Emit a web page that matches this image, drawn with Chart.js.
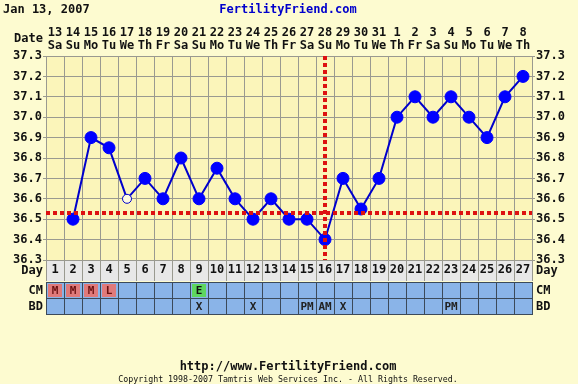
<!DOCTYPE html>
<html>
<head>
<meta charset="utf-8">
<script src="https://cdn.jsdelivr.net/npm/chart.js@4.4.1/dist/chart.umd.min.js"></script>
<style>
  html, body { margin: 0; padding: 0; background: #fdfbd0; }
  #wrap { width: 578px; height: 384px; }
</style>
</head>
<body>
<div id="wrap"><canvas id="bbt" width="578" height="384"></canvas></div>
<script>
// cycle days and calendar dates
const days = ['1','2','3','4','5','6','7','8','9','10','11','12','13','14','15','16','17','18','19','20','21','22','23','24','25','26','27'];
const dates = ['13','14','15','16','17','18','19','20','21','22','23','24','25','26','27','28','29','30','31','1','2','3','4','5','6','7','8'];
const weekdays = ['Sa','Su','Mo','Tu','We','Th','Fr','Sa','Su','Mo','Tu','We','Th','Fr','Sa','Su','Mo','Tu','We','Th','Fr','Sa','Su','Mo','Tu','We','Th'];

// temperatures (null = not recorded)
const temps = [null, 36.5, 36.9, 36.85, 36.6, 36.7, 36.6, 36.8, 36.6, 36.75, 36.6, 36.5, 36.6, 36.5, 36.5, 36.4, 36.7, 36.55, 36.7, 37.0, 37.1, 37.0, 37.1, 37.0, 36.9, 37.1, 37.2];
const discardedDays = ['5'];

const coverline = 36.53;
const ovulationDay = '16';

// observations
const cmObs = ['M','M','M','L','','','','','E','','','','','','','','','','','','','','','','','',''];
const bdObs = ['','','','','','','','','X','','','X','','','PM','AM','X','','','','','','PM','','','',''];

const yMin = 36.3;
const yMax = 37.3;

const FONT = '"DejaVu Sans Mono", monospace';

const cmColors = { M: '#e07a7a', L: '#e07a7a', E: '#5ed65e' };

const chartDecor = {
  id: 'chartDecor',
  beforeDraw(chart) {
    const { ctx, chartArea } = chart;
    ctx.save();
    ctx.fillStyle = '#fdfbd0';
    ctx.fillRect(0, 0, chart.width, chart.height);
    ctx.fillStyle = '#fbf5ba';
    ctx.fillRect(chartArea.left, chartArea.top, chartArea.right - chartArea.left, chartArea.bottom - chartArea.top);
    // day row
    ctx.fillStyle = '#e8e8e8';
    ctx.fillRect(chartArea.left, chartArea.bottom, chartArea.right - chartArea.left, 21);
    ctx.restore();
  },
  afterDatasetsDraw(chart) {
    const { ctx, chartArea, scales } = chart;
    ctx.save();
    ctx.strokeStyle = '#dd1111';
    ctx.lineWidth = 4;
    ctx.setLineDash([4, 3]);
    const yc = Math.round(scales.y.getPixelForValue(coverline));
    ctx.beginPath();
    ctx.moveTo(chartArea.left, yc);
    ctx.lineTo(chartArea.right, yc);
    ctx.stroke();
    const xo = Math.round(scales.x.getPixelForValue(days.indexOf(ovulationDay)));
    ctx.beginPath();
    ctx.moveTo(xo, chartArea.top);
    ctx.lineTo(xo, chartArea.bottom);
    ctx.stroke();
    ctx.restore();
  },
  afterDraw(chart) {
    const { ctx, chartArea, scales } = chart;
    const x = scales.x;
    const colW = (chartArea.right - chartArea.left) / days.length;
    const rowTop = chartArea.bottom + 21;
    const cmTop = rowTop + 1, bdTop = rowTop + 17, rowH = 16;
    ctx.save();

    // CM / BD rows
    ctx.fillStyle = '#8ab4e8';
    ctx.fillRect(chartArea.left, cmTop, chartArea.right - chartArea.left, rowH * 2);
    ctx.font = 'bold 11px ' + FONT;
    ctx.textAlign = 'center';
    ctx.textBaseline = 'middle';
    days.forEach((d, i) => {
      const cx = x.getPixelForValue(i);
      const cm = cmObs[i];
      if (cm) {
        ctx.fillStyle = cmColors[cm] || '#e07a7a';
        ctx.fillRect(cx - colW / 2 + 2, cmTop + 2, colW - 4, rowH - 3);
        ctx.fillStyle = cm === 'E' ? '#111' : '#6a1010';
        ctx.fillText(cm, cx, cmTop + rowH / 2 + 1);
      }
      if (bdObs[i]) {
        ctx.fillStyle = '#222';
        ctx.fillText(bdObs[i], cx, bdTop + rowH / 2 + 1);
      }
    });
    ctx.strokeStyle = '#3c4a5a';
    ctx.lineWidth = 1;
    ctx.beginPath();
    for (let k = 0; k <= days.length; k++) {
      const lx = Math.round(chartArea.left + k * colW) + 0.5;
      ctx.moveTo(lx, cmTop);
      ctx.lineTo(lx, bdTop + rowH);
    }
    [cmTop, bdTop, bdTop + rowH].forEach(ly => {
      ctx.moveTo(chartArea.left, ly + 0.5);
      ctx.lineTo(chartArea.right + 1, ly + 0.5);
    });
    ctx.stroke();

    // side labels
    ctx.fillStyle = '#111';
    ctx.font = 'bold 12px ' + FONT;
    ctx.textAlign = 'right';
    ctx.fillText('Date', chartArea.left - 3, 39);
    ctx.fillText('Day', chartArea.left - 3, chartArea.bottom + 11);
    ctx.fillText('CM', chartArea.left - 3, cmTop + rowH / 2 + 1);
    ctx.fillText('BD', chartArea.left - 3, bdTop + rowH / 2 + 1);
    ctx.textAlign = 'left';
    ctx.fillText('Day', chartArea.right + 4, chartArea.bottom + 11);
    ctx.fillText('CM', chartArea.right + 4, cmTop + rowH / 2 + 1);
    ctx.fillText('BD', chartArea.right + 4, bdTop + rowH / 2 + 1);

    // header
    ctx.textAlign = 'left';
    ctx.fillText('Jan 13, 2007', 3, 10);
    ctx.fillStyle = '#0000cc';
    ctx.textAlign = 'center';
    ctx.fillText('FertilityFriend.com', 288, 10);

    // footer
    ctx.fillStyle = '#111';
    ctx.fillText('http://www.FertilityFriend.com', 288, 367);
    ctx.font = '8.3px ' + FONT;
    ctx.fillText('Copyright 1998-2007 Tamtris Web Services Inc. - All Rights Reserved.', 288, 380);
    ctx.restore();
  }
};

const tickFont = { family: FONT, size: 12, weight: 'bold', lineHeight: 1.05 };

new Chart(document.getElementById('bbt'), {
  type: 'line',
  data: {
    labels: days,
    datasets: [{
      label: 'Temperature',
      data: temps,
      borderColor: '#0000cc',
      borderWidth: 2,
      pointRadius: days.map(d => discardedDays.includes(d) ? 4.5 : 6),
      pointBackgroundColor: days.map(d => discardedDays.includes(d) ? '#fdfbe0' : '#0000ff'),
      pointBorderColor: days.map(d => discardedDays.includes(d) ? '#0000cc' : '#0000ff'),
      pointBorderWidth: 1,
      spanGaps: false,
      tension: 0
    }]
  },
  options: {
    responsive: false,
    animation: false,
    layout: { padding: { top: 0, left: 0, right: 0, bottom: 103 } },
    plugins: {
      legend: { display: false },
      tooltip: { enabled: false }
    },
    scales: {
      x: {
        type: 'category',
        position: 'bottom',
        offset: true,
        grid: { offset: true, color: '#9a9a90', tickLength: 21, drawTicks: true },
        border: { color: '#9a9a90' },
        ticks: { autoSkip: false, maxRotation: 0, color: '#111', font: tickFont, padding: -17 },
        afterFit: axis => { axis.height = 21; }
      },
      xTop: {
        type: 'category',
        position: 'top',
        offset: true,
        grid: { display: false, drawTicks: false },
        border: { display: false },
        ticks: {
          autoSkip: false, maxRotation: 0, color: '#111', font: tickFont, padding: 4,
          callback: (v, i) => [dates[i], weekdays[i]]
        },
        afterFit: axis => { axis.height = 56; }
      },
      y: {
        position: 'left',
        min: yMin,
        max: yMax,
        grid: { color: '#9a9a90', tickLength: 3 },
        border: { color: '#9a9a90' },
        ticks: { stepSize: 0.1, color: '#111', font: tickFont, padding: 1, callback: v => Number(v).toFixed(1) },
        afterFit: axis => { axis.width = 46; }
      },
      yRight: {
        position: 'right',
        min: yMin,
        max: yMax,
        grid: { drawOnChartArea: false, color: '#9a9a90', tickLength: 3 },
        border: { color: '#9a9a90' },
        ticks: { stepSize: 0.1, color: '#111', font: tickFont, padding: 1, callback: v => Number(v).toFixed(1) },
        afterFit: axis => { axis.width = 46; }
      }
    }
  },
  plugins: [chartDecor]
});
</script>
</body>
</html>
